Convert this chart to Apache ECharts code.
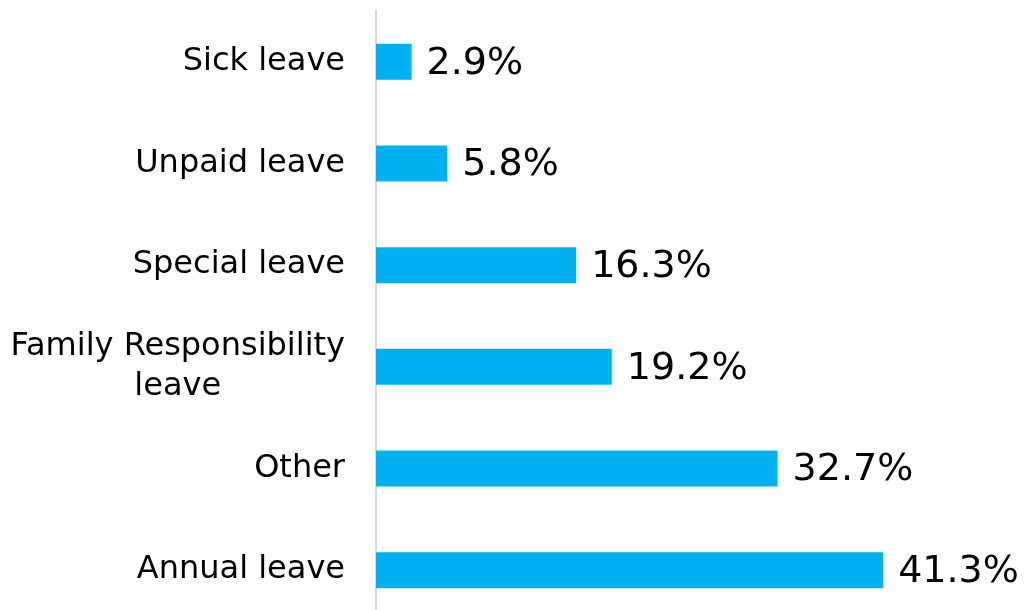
<!DOCTYPE html>
<html>
<head>
<meta charset="utf-8">
<script src="https://cdn.jsdelivr.net/npm/echarts@6/dist/echarts.min.js"></script>
<style>
  html, body { margin: 0; padding: 0; background: #ffffff; }
  #chart { width: 1027px; height: 610px; }
</style>
</head>
<body>
<div id="chart"></div>
<script>
// Leave types, listed bottom to top as drawn on the category axis
const categories = ['Annual leave', 'Other', 'Family Responsibility\nleave', 'Special leave', 'Unpaid leave', 'Sick leave'];
// Share of each leave type, percent
const shares = [41.3, 32.7, 19.2, 16.3, 5.8, 2.9];

const FONT = 'DejaVu Sans, Verdana, sans-serif';

const chart = echarts.init(document.getElementById('chart'), null, { renderer: 'canvas' });
chart.setOption({
  animation: false,
  grid: {
    left: 376, top: 11, width: 614, height: 610,
    containLabel: false,
    outerBoundsMode: 'none'
  },
  xAxis: {
    type: 'value',
    min: 0,
    max: 50,
    show: false
  },
  yAxis: {
    type: 'category',
    data: categories,
    axisLine: { show: true, lineStyle: { color: '#d9d9d9', width: 2 } },
    axisTick: { show: false },
    splitLine: { show: false },
    axisLabel: {
      margin: 31,
      color: '#000000',
      fontFamily: FONT,
      fontSize: 32,
      lineHeight: 40,
      formatter: function (v) {
        return v.split('\n').map(function (s) { return '{c|' + s + '}'; }).join('\n');
      },
      rich: {
        c: { align: 'center', fontFamily: FONT, fontSize: 32, lineHeight: 40, color: '#000000' }
      }
    }
  },
  series: [{
    type: 'bar',
    data: shares,
    barWidth: 36,
    itemStyle: { color: '#00b0f0' },
    label: {
      show: true,
      position: 'right',
      distance: 15,
      offset: [0, 2],
      color: '#000000',
      fontFamily: FONT,
      fontSize: 38,
      formatter: function (p) { return p.value.toFixed(1) + '%'; }
    }
  }]
});
</script>
</body>
</html>
